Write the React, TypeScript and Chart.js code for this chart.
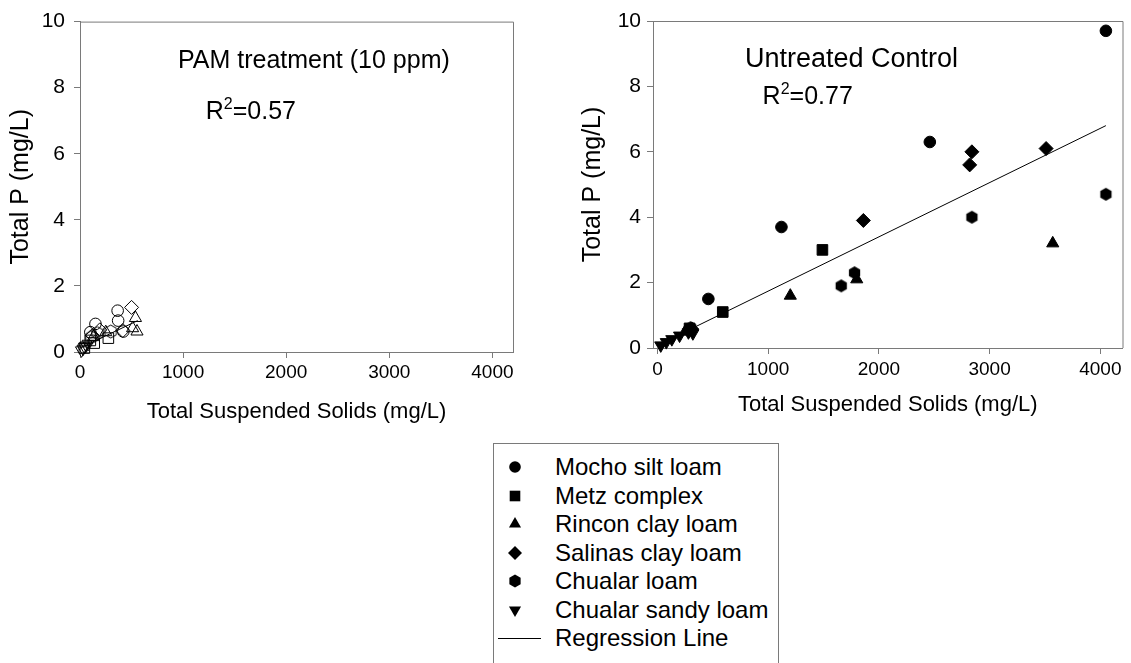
import React, { useEffect, useRef } from "react";
import { Chart, registerables } from "chart.js";
Chart.register(...registerables);

const FONT = "'Liberation Sans', Arial, Helvetica, sans-serif";
const AXIS_GRAY = "#7a7a7a";

const xTicks = [0, 1000, 2000, 3000, 4000];
const yTicks = [0, 2, 4, 6, 8, 10];
const xTitle = "Total Suspended Solids (mg/L)";
const yTitle = "Total P (mg/L)";

const seriesNames = [
  "Mocho silt loam",
  "Metz complex",
  "Rincon clay loam",
  "Salinas clay loam",
  "Chualar loam",
  "Chualar sandy loam",
];
const regressionName = "Regression Line";

// PAM treatment (10 ppm) panel — hollow markers
const pamMocho: [number, number][] = [[365, 1.25], [370, 0.95], [150, 0.85], [100, 0.6], [420, 0.62]];
const pamMetz: [number, number][] = [[275, 0.42], [138, 0.27], [42, 0.12], [100, 0.35]];
const pamRincon: [number, number][] = [[538, 1.03], [553, 0.62], [510, 0.72], [130, 0.45], [250, 0.6]];
const pamSalinas: [number, number][] = [[500, 1.35], [415, 0.65], [192, 0.67], [120, 0.5]];
const pamChualar: [number, number][] = [[298, 0.62], [170, 0.57], [110, 0.45]];
const pamChualarSandy: [number, number][] = [[15, 0.05], [30, 0.1], [45, 0.15], [60, 0.2], [80, 0.25]];
const pamRegression: [number, number][] = [[0, 0.12], [560, 0.95]];
const pamLabel = "PAM treatment (10 ppm)";
const pamR2 = "0.57";

// Untreated Control panel — filled markers
const ctlMocho: [number, number][] = [[4050, 9.7], [2460, 6.3], [1120, 3.7], [460, 1.5]];
const ctlMetz: [number, number][] = [[1490, 3.0], [590, 1.1], [290, 0.6]];
const ctlRincon: [number, number][] = [[1200, 1.6], [1800, 2.1], [3570, 3.2], [250, 0.5]];
const ctlSalinas: [number, number][] = [[2840, 6.0], [2820, 5.6], [1860, 3.9], [3510, 6.1], [310, 0.58]];
const ctlChualar: [number, number][] = [[4050, 4.7], [2840, 4.0], [1660, 1.9], [1780, 2.3], [300, 0.62]];
const ctlChualarSandy: [number, number][] = [[30, 0.08], [80, 0.18], [130, 0.27], [200, 0.38], [280, 0.48], [320, 0.45]];
const ctlRegression: [number, number][] = [[0, 0.08], [4050, 6.8]];
const ctlLabel = "Untreated Control";
const ctlR2 = "0.77";

function makeHex(r: number, filled: boolean): HTMLCanvasElement {
  const size = Math.ceil(r * 2 + 2);
  const c = document.createElement("canvas");
  c.width = size;
  c.height = size;
  const ctx = c.getContext("2d")!;
  const cx = size / 2, cy = size / 2;
  ctx.beginPath();
  for (let i = 0; i < 6; i++) {
    const a = -Math.PI / 2 + (i * Math.PI) / 3;
    const px = cx + r * Math.cos(a), py = cy + r * Math.sin(a);
    if (i === 0) ctx.moveTo(px, py);
    else ctx.lineTo(px, py);
  }
  ctx.closePath();
  if (filled) {
    ctx.fillStyle = "#000";
    ctx.fill();
  } else {
    ctx.strokeStyle = "#000";
    ctx.lineWidth = 1;
    ctx.stroke();
  }
  return c;
}

const toPts = (a: [number, number][]) => a.map(([x, y]) => ({ x, y }));

type PanelCfg = {
  series: [number, number][][];
  regression: [number, number][];
  filled: boolean;
  xMin: number;
  label: string;
  labelSize: number;
  r2: string;
  r2Size: number;
  labelPos: [number, number];
  r2Pos: [number, number];
  padding: { top: number; right: number; left: number; bottom: number };
  yAxisWidth: number;
  xAxisHeight: number;
  yTitlePad: number;
  xTitlePad: number;
  xTickPad: number;
  yTickPad: number;
};

function buildDatasets(cfg: PanelCfg) {
  const fill = cfg.filled ? "#000" : "rgba(0,0,0,0)";
  const hex = makeHex(6.5, cfg.filled);
  const styles: any[] = [
    { pointStyle: "circle", pointRadius: 5.8, rotation: 0 },
    { pointStyle: "rect", pointRadius: 7.5, rotation: 0 },
    { pointStyle: "triangle", pointRadius: 7, rotation: 0 },
    { pointStyle: "rectRot", pointRadius: 7, rotation: 0 },
    { pointStyle: hex, pointRadius: 6.5, rotation: 0 },
    { pointStyle: "triangle", pointRadius: 7, rotation: 180 },
  ];
  const ds: any[] = cfg.series.map((s, i) => ({
    type: "scatter",
    label: seriesNames[i],
    data: toPts(s),
    pointStyle: styles[i].pointStyle,
    pointRadius: styles[i].pointRadius,
    pointRotation: styles[i].rotation,
    backgroundColor: fill,
    borderColor: "#000",
    borderWidth: 1,
    showLine: false,
    clip: false,
  }));
  ds.push({
    type: "line",
    label: regressionName,
    data: toPts(cfg.regression),
    borderColor: "#000",
    borderWidth: 1,
    pointRadius: 0,
    fill: false,
    tension: 0,
  });
  return ds;
}

function drawR2(ctx: CanvasRenderingContext2D, x: number, y: number, val: string, size: number) {
  ctx.font = `${size}px ${FONT}`;
  ctx.textBaseline = "alphabetic";
  ctx.textAlign = "left";
  ctx.fillText("R", x, y);
  const w = ctx.measureText("R").width;
  ctx.font = `${Math.round(size * 0.62)}px ${FONT}`;
  ctx.fillText("2", x + w, y - size * 0.4);
  const w2 = ctx.measureText("2").width;
  ctx.font = `${size}px ${FONT}`;
  ctx.fillText("=" + val, x + w + w2, y);
}

function Panel({ cfg, left, width, height }: { cfg: PanelCfg; left: number; width: number; height: number }) {
  const ref = useRef<HTMLCanvasElement | null>(null);
  useEffect(() => {
    if (!ref.current) return;
    const frame = {
      id: "frameAndText",
      afterDraw(chart: any) {
        const { ctx, chartArea, scales } = chart;
        ctx.save();
        ctx.strokeStyle = AXIS_GRAY;
        ctx.lineWidth = 1;
        ctx.beginPath();
        ctx.moveTo(chartArea.left, chartArea.top + 0.5);
        ctx.lineTo(chartArea.right + 0.5, chartArea.top + 0.5);
        ctx.lineTo(chartArea.right + 0.5, chartArea.bottom);
        ctx.stroke();
        ctx.fillStyle = "#000";
        ctx.font = `${cfg.labelSize}px ${FONT}`;
        ctx.textBaseline = "alphabetic";
        ctx.textAlign = "left";
        ctx.fillText(cfg.label, scales.x.getPixelForValue(cfg.labelPos[0]), scales.y.getPixelForValue(cfg.labelPos[1]));
        drawR2(ctx, scales.x.getPixelForValue(cfg.r2Pos[0]), scales.y.getPixelForValue(cfg.r2Pos[1]), cfg.r2, cfg.r2Size);
        ctx.restore();
      },
    };
    const chart = new Chart(ref.current, {
      type: "scatter",
      data: { datasets: buildDatasets(cfg) },
      options: {
        animation: false,
        responsive: false,
        devicePixelRatio: 1,
        layout: { padding: cfg.padding },
        plugins: { legend: { display: false }, tooltip: { enabled: false } },
        scales: {
          x: {
            type: "linear",
            min: cfg.xMin,
            max: 4200,
            afterBuildTicks: (s: any) => {
              s.ticks = xTicks.map((v) => ({ value: v }));
            },
            afterFit: (s: any) => {
              s.height = cfg.xAxisHeight;
            },
            ticks: {
              color: "#000",
              font: { family: FONT, size: 19 },
              padding: cfg.xTickPad,
              maxRotation: 0,
              callback: (v: any) => String(v),
            },
            grid: { drawOnChartArea: false, drawTicks: true, tickLength: 6, color: AXIS_GRAY },
            border: { display: true, color: AXIS_GRAY, width: 1 },
            title: { display: true, text: xTitle, color: "#000", font: { family: FONT, size: 22 }, padding: { top: 0, bottom: cfg.xTitlePad } },
          },
          y: {
            type: "linear",
            min: 0,
            max: 10,
            afterBuildTicks: (s: any) => {
              s.ticks = yTicks.map((v) => ({ value: v }));
            },
            afterFit: (s: any) => {
              s.width = cfg.yAxisWidth;
            },
            ticks: {
              color: "#000",
              font: { family: FONT, size: 21 },
              padding: cfg.yTickPad,
              callback: (v: any) => String(v),
            },
            grid: { drawOnChartArea: false, drawTicks: true, tickLength: 6, color: AXIS_GRAY },
            border: { display: true, color: AXIS_GRAY, width: 1 },
            title: { display: true, text: yTitle, color: "#000", font: { family: FONT, size: 25 }, padding: { top: cfg.yTitlePad, bottom: 0 } },
          },
        },
      },
      plugins: [frame],
    } as any);
    return () => chart.destroy();
  }, []);
  return (
    <canvas
      ref={ref}
      width={width}
      height={height}
      style={{ position: "absolute", left, top: 0, width, height }}
    />
  );
}

const pamCfg: PanelCfg = {
  series: [pamMocho, pamMetz, pamRincon, pamSalinas, pamChualar, pamChualarSandy],
  regression: pamRegression,
  filled: false,
  xMin: 0,
  label: pamLabel,
  labelSize: 25,
  r2: pamR2,
  r2Size: 25,
  labelPos: [950, 8.6],
  r2Pos: [1220, 7.05],
  padding: { top: 21, right: 47, left: 0, bottom: 0 },
  yAxisWidth: 80,
  xAxisHeight: 78,
  yTitlePad: 6,
  xTitlePad: 5,
  xTickPad: 3,
  yTickPad: 9,
};

const ctlCfg: PanelCfg = {
  series: [ctlMocho, ctlMetz, ctlRincon, ctlSalinas, ctlChualar, ctlChualarSandy],
  regression: ctlRegression,
  filled: true,
  xMin: -40,
  label: ctlLabel,
  labelSize: 27,
  r2: ctlR2,
  r2Size: 25,
  labelPos: [790, 8.6],
  r2Pos: [950, 7.45],
  padding: { top: 21, right: 8, left: 0, bottom: 0 },
  yAxisWidth: 88,
  xAxisHeight: 82,
  yTitlePad: 13,
  xTitlePad: 12,
  xTickPad: 4,
  yTickPad: 6,
};

function LegendMarker({ kind }: { kind: number }) {
  const c = 8;
  let shape: React.ReactNode = null;
  if (kind === 0) shape = <circle cx={c} cy={c} r={5.8} fill="#000" />;
  else if (kind === 1) shape = <rect x={c - 5.3} y={c - 5.3} width={10.6} height={10.6} fill="#000" />;
  else if (kind === 2) shape = <polygon points={`${c},${c - 7} ${c + 6.06},${c + 3.5} ${c - 6.06},${c + 3.5}`} fill="#000" />;
  else if (kind === 3) shape = <polygon points={`${c},${c - 7} ${c + 7},${c} ${c},${c + 7} ${c - 7},${c}`} fill="#000" />;
  else if (kind === 4) {
    const pts = Array.from({ length: 6 }, (_, i) => {
      const a = -Math.PI / 2 + (i * Math.PI) / 3;
      return `${c + 6.5 * Math.cos(a)},${c + 6.5 * Math.sin(a)}`;
    }).join(" ");
    shape = <polygon points={pts} fill="#000" />;
  } else if (kind === 5) shape = <polygon points={`${c},${c + 7} ${c + 6.06},${c - 3.5} ${c - 6.06},${c - 3.5}`} fill="#000" />;
  return (
    <svg width={16} height={16} style={{ position: "absolute", left: 13, top: 6 }}>
      {shape}
    </svg>
  );
}

function Legend() {
  const rows = [...seriesNames, regressionName];
  return (
    <div
      style={{
        position: "absolute",
        left: 493,
        top: 443,
        width: 284,
        height: 260,
        border: `1px solid ${AXIS_GRAY}`,
        background: "#fff",
        fontFamily: FONT,
        fontSize: 24,
        color: "#000",
      }}
    >
      {rows.map((name, i) => (
        <div key={name} style={{ position: "absolute", left: 0, top: 9 + i * 28.5, height: 28, width: 284 }}>
          {i < seriesNames.length ? (
            <LegendMarker kind={i} />
          ) : (
            <div style={{ position: "absolute", left: 4, top: 14, width: 43, height: 1, background: "#000" }} />
          )}
          <span style={{ position: "absolute", left: 61, top: 0, lineHeight: "28px", whiteSpace: "nowrap" }}>{name}</span>
        </div>
      ))}
    </div>
  );
}

export default function App() {
  return (
    <div
      style={{
        position: "absolute",
        left: 0,
        top: 0,
        width: 1131,
        height: 663,
        overflow: "hidden",
        background: "#fff",
      }}
    >
      <Panel cfg={pamCfg} left={0} width={560} height={430} />
      <Panel cfg={ctlCfg} left={565} width={566} height={430} />
      <Legend />
    </div>
  );
}
